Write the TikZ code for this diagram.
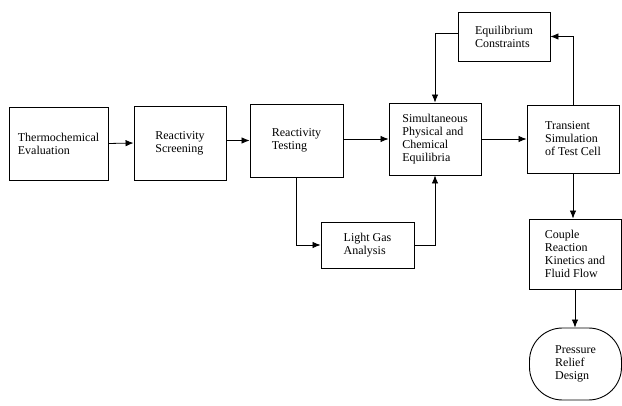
\documentclass[tikz,border=0pt]{standalone}
\usepackage{fontspec}
\setmainfont{Liberation Serif}
\usetikzlibrary{arrows.meta}
\begin{document}
\begin{tikzpicture}[x=1pt,y=-1pt,
  box/.style={draw, line width=0.9pt, align=left, inner sep=0pt,
    font=\fontsize{12}{13}\selectfont},
  conn/.style={line width=0.8pt, -{Latex[length=8pt,width=6.5pt]}}]
\useasboundingbox (0,0) rectangle (622,406);
\node[box, minimum width=99pt, minimum height=73pt] (thermo) at (58.5,143.5) {Thermochemical\\Evaluation};
\node[box, minimum width=92pt, minimum height=74pt] (screen) at (180,143) {Reactivity\\Screening};
\node[box, minimum width=93pt, minimum height=73pt] (testing) at (296.5,140.5) {Reactivity\\Testing};
\node[box, minimum width=92pt, minimum height=72pt] (simul) at (435,139) {Simultaneous\\Physical and\\Chemical\\Equilibria};
\node[box, minimum width=92pt, minimum height=68pt] (trans) at (573,139) {Transient\\Simulation\\of Test Cell};
\node[box, minimum width=92pt, minimum height=49pt] (equil) at (504,36.5) {Equilibrium\\Constraints};
\node[box, minimum width=93pt, minimum height=46pt] (light) at (367.5,245) {Light Gas\\Analysis};
\node[box, minimum width=92pt, minimum height=70pt] (couple) at (575,254) {Couple\\Reaction\\Kinetics and\\Fluid Flow};
\node[box, rounded corners=33pt, minimum width=92pt, minimum height=72pt] (pressure) at (575.5,364) {Pressure\\Relief\\Design};
\draw[conn] (thermo.east) -- (screen.west);
\draw[conn] (screen.east |- testing.west) -- (testing.west);
\draw[conn] (testing.east |- simul.west) -- (simul.west);
\draw[conn] (simul.east) -- (trans.west);
\draw[conn] (testing.south) |- (light.west);
\draw[conn] (light.east) -| (simul.south);
\draw[conn] ([yshift=3pt]equil.west) -| (simul.north);
\draw[conn] (trans.north) |- (equil.east);
\draw[conn] (trans.south) -- (trans.south |- couple.north);
\draw[conn] (couple.south) -- (couple.south |- pressure.north);
\end{tikzpicture}
\end{document}
